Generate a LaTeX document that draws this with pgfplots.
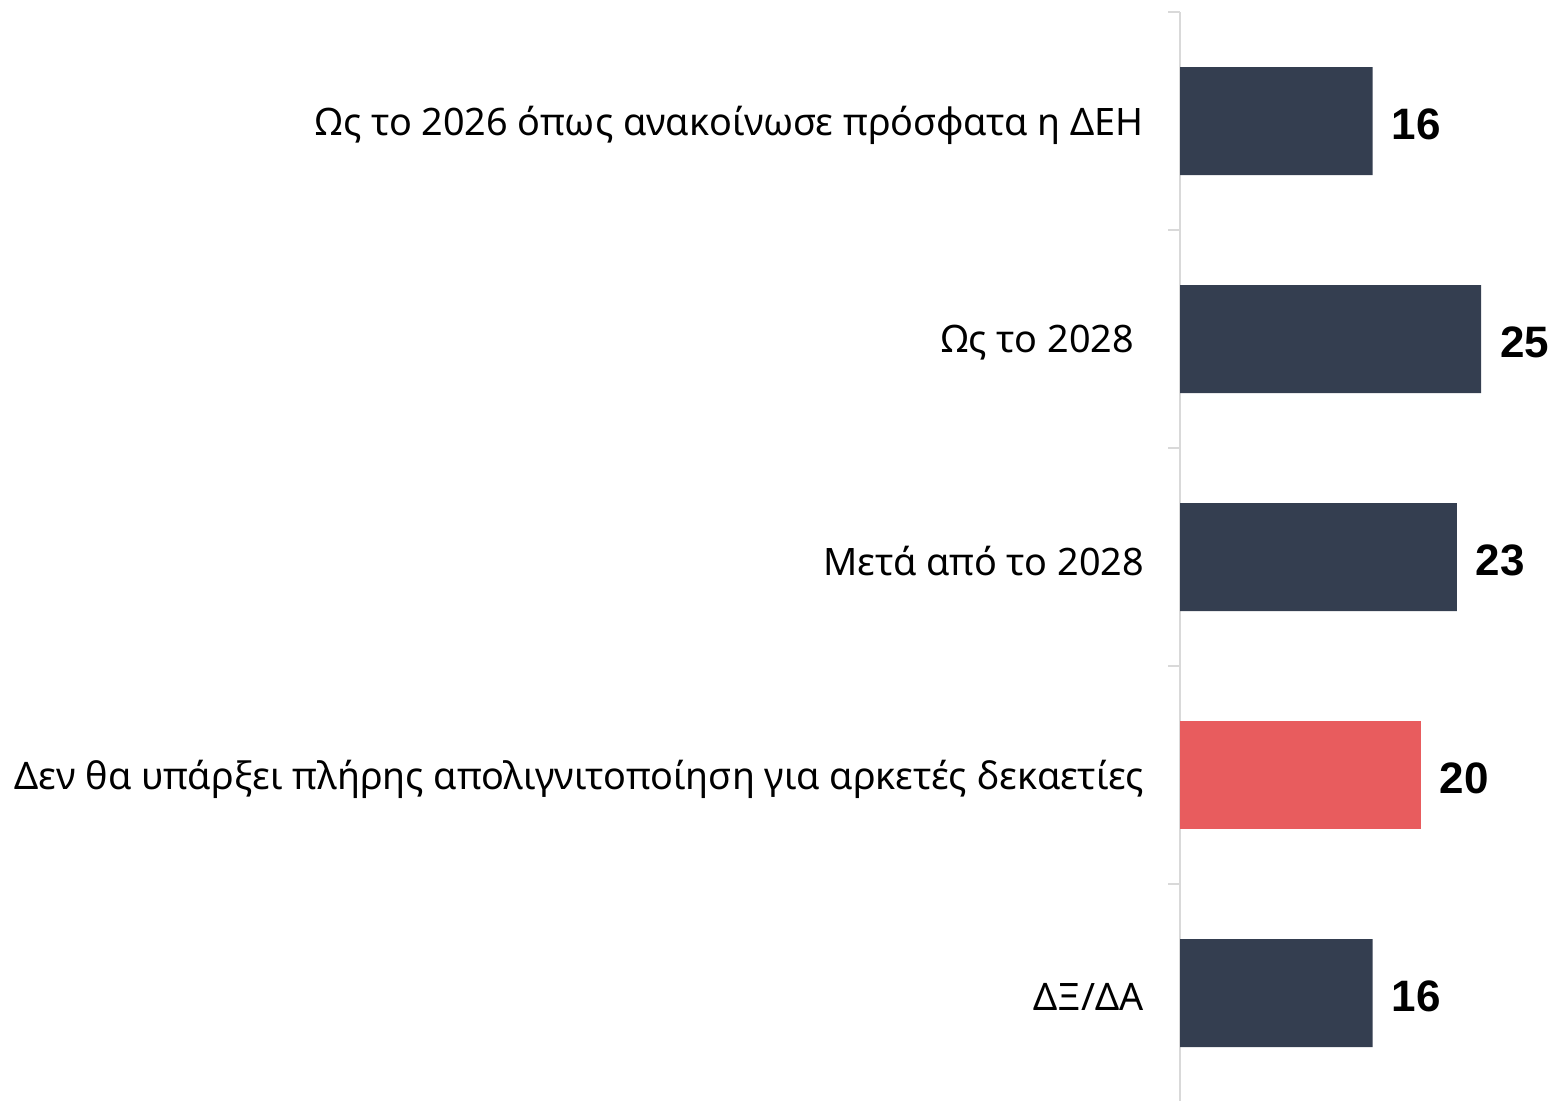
\documentclass[border=0pt]{standalone}
\usepackage{pgfplots}
\pgfplotsset{compat=1.18}
\usepackage{fontspec}
\setmainfont{Noto Sans}
\newfontfamily\numfont{Liberation Sans}
\definecolor{bardark}{HTML}{343E50}
\definecolor{barred}{HTML}{E85C5E}
\definecolor{axgray}{HTML}{D9D9D9}
\begin{document}
\begin{tikzpicture}
\useasboundingbox (0,0) rectangle (776pt,550pt);
\begin{axis}[
  at={(590pt,544pt)}, anchor=north west,
  scale only axis, width=180.6pt, height=545pt,
  xbar, bar width=54pt, bar shift=0pt,
  xmin=0, xmax=30,
  ymin=-0.5, ymax=4.5, y dir=reverse,
  axis x line=none,
  axis y line*=left,
  axis line style={axgray, line width=1pt},
  ytick={0,1,2,3,4},
  yticklabels={Ως το 2026 όπως ανακοίνωσε πρόσφατα η ΔΕΗ, {\hbox{Ως το 2028\kern5pt}}, Μετά από το 2028, Δεν θα υπάρξει πλήρης απολιγνιτοποίηση για αρκετές δεκαετίες, ΔΞ/ΔΑ},
  major tick length=0pt,
  yticklabel style={font=\fontsize{18.9}{22}\selectfont, xshift=-14.5pt, yshift=-2pt},
  extra y ticks={-0.5,0.5,1.5,2.5,3.5,4.5},
  extra y tick labels={},
  extra y tick style={tick style={axgray, line width=1pt}, major tick length=6pt, tick align=outside},
  clip=false,
  /pgf/number format/assume math mode=true,
  nodes near coords={\pgfmathprintnumber[assume math mode=true]{\pgfplotspointmeta}},
  nodes near coords style={font=\numfont\bfseries\fontsize{22}{26}\selectfont, black, anchor=west, xshift=6pt, yshift=-1.5pt},
]
\addplot[fill=bardark, draw=none] coordinates {(16,0) (25,1) (23,2) (16,4)};
\addplot[fill=barred, draw=none] coordinates {(20,3)};
\end{axis}
\end{tikzpicture}
\end{document}
